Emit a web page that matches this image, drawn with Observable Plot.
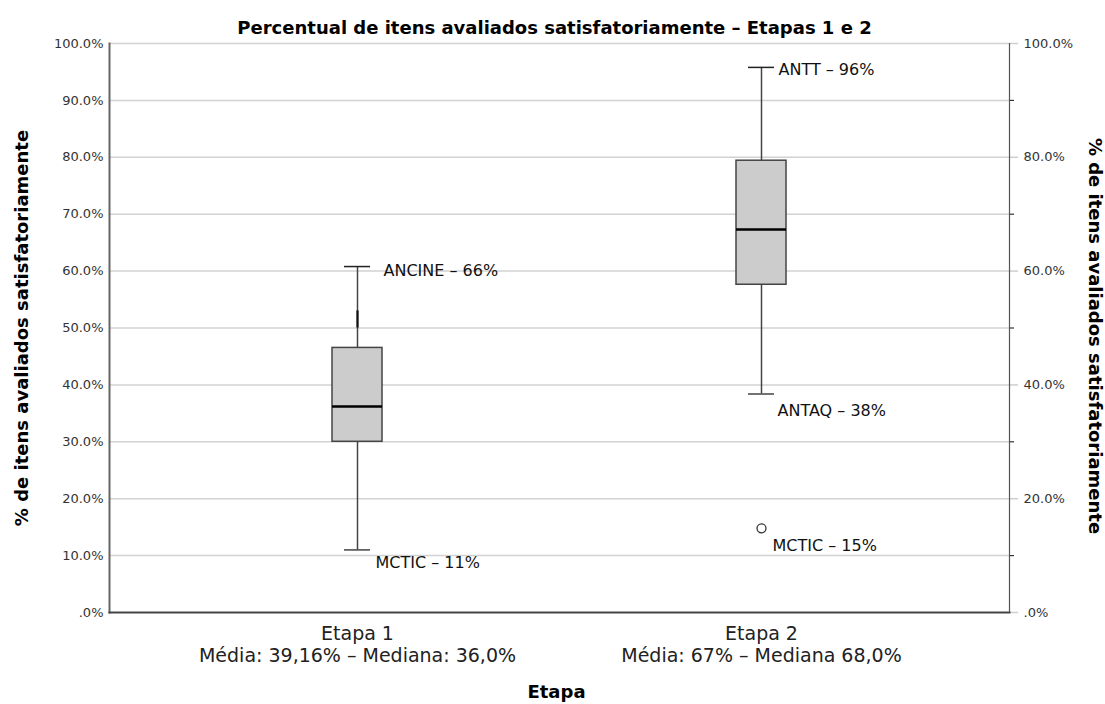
<!DOCTYPE html>
<html><head><meta charset="utf-8">
<script src="https://cdn.jsdelivr.net/npm/d3@7"></script>
<script src="https://cdn.jsdelivr.net/npm/@observablehq/plot@0.6"></script>
<style>body{margin:0;background:#fff;} svg{display:block}</style>
</head><body><div id="chart"></div>
<script>
// ---- data ----
const etapas = ["Etapa 1", "Etapa 2"];
const etapaSubtitulos = ["Média: 39,16% – Mediana: 36,0%", "Média: 67% – Mediana 68,0%"];
const q1 = [0.300, 0.576];
const medianas = [0.362, 0.673];
const q3 = [0.465, 0.794];
const bigodeMin = [0.110, 0.384];
const bigodeMax = [0.608, 0.958];
const bigodeSobreposto = [[0.50, 0.53]]; // darker overlapping whisker segment (Etapa 1)
const outlierEtapas = ["Etapa 2"];
const outlierValores = [0.148];
const rotulos = ["ANCINE – 66%", "MCTIC – 11%", "ANTT – 96%", "ANTAQ – 38%", "MCTIC – 15%"];
const rotuloEtapas = ["Etapa 1", "Etapa 1", "Etapa 2", "Etapa 2", "Etapa 2"];
const rotuloValores = [0.608, 0.110, 0.958, 0.384, 0.148];
const yTickValues = [0, 0.1, 0.2, 0.3, 0.4, 0.5, 0.6, 0.7, 0.8, 0.9, 1.0];
const yTickLabels = [".0%", "10.0%", "20.0%", "30.0%", "40.0%", "50.0%", "60.0%", "70.0%", "80.0%", "90.0%", "100.0%"];
const yRightValues = [0, 0.2, 0.4, 0.6, 0.8, 1.0];
const yRightMinor = [0.1, 0.3, 0.5, 0.7, 0.9];
const titulo = "Percentual de itens avaliados satisfatoriamente – Etapas 1 e 2";
const yTitulo = "% de itens avaliados satisfatoriamente";
const xTitulo = "Etapa";

// ---- tables ----
const boxes = etapas.map((e, i) => ({etapa: e, q1: q1[i], med: medianas[i], q3: q3[i], lo: bigodeMin[i], hi: bigodeMax[i]}));
const outliers = outlierEtapas.map((e, i) => ({etapa: e, v: outlierValores[i]}));
const anot = rotulos.map((t, i) => ({label: t, etapa: rotuloEtapas[i], v: rotuloValores[i]}));
const fmtY = d => { const k = yTickValues.findIndex(v => Math.abs(v - d) < 1e-9); return k >= 0 ? yTickLabels[k] : ""; };
const fmtX = d => d + "\n" + etapaSubtitulos[etapas.indexOf(d)];

// label offsets (style)
const offsets = [[26, 4], [18, 13], [17, 2], [16, 17], [11, 18]];

const chart = Plot.plot({
  width: 1105,
  height: 704,
  marginLeft: 109,
  marginRight: 96,
  marginTop: 43,
  marginBottom: 92,
  style: {fontFamily: "DejaVu Sans", fontSize: "13px", color: "#222", background: "#fff"},
  x: {domain: etapas, paddingInner: 0.8765, paddingOuter: 0.5494, axis: null},
  y: {domain: [0, 1], axis: null},
  marks: [
    Plot.ruleY(yTickValues.filter(v => v > 0), {stroke: "#d2d2d2", strokeWidth: 1.5}),
    // left axis
    Plot.axisY(yTickValues, {anchor: "left", label: null, tickSize: 0, tickPadding: 6, tickFormat: fmtY, fontSize: 13, fill: "#333"}),
    // right axis
    Plot.axisY(yRightValues, {anchor: "right", label: null, tickSize: 8, tickPadding: 6, tickFormat: fmtY, fontSize: 13, fill: "#333", stroke: "#cfcfcf", strokeWidth: 1.5}),
    Plot.axisY(yRightMinor, {anchor: "right", label: null, tickSize: 4, tickFormat: () => "", stroke: "#333", strokeWidth: 1.2}),
    // x axis labels
    Plot.axisX(etapas, {anchor: "bottom", label: null, tickSize: 0, tickPadding: 11, tickFormat: fmtX, fontSize: 19, lineHeight: 1.2, fill: "#222"}),
    // frame lines
    Plot.frame({anchor: "left", stroke: "#666", strokeWidth: 2}),
    Plot.frame({anchor: "right", stroke: "#555", strokeWidth: 1.2}),
    Plot.frame({anchor: "bottom", stroke: "#444", strokeWidth: 2}),
    // whiskers
    Plot.ruleX(boxes, {x: "etapa", y1: "lo", y2: "q1", stroke: "#444", strokeWidth: 1.5}),
    Plot.ruleX(boxes, {x: "etapa", y1: "q3", y2: "hi", stroke: "#444", strokeWidth: 1.5}),
    Plot.ruleX(bigodeSobreposto, {x: () => etapas[0], y1: d => d[0], y2: d => d[1], stroke: "#111", strokeWidth: 2.2}),
    Plot.tickY(boxes, {x: "etapa", y: "lo", stroke: "#444", strokeWidth: 1.5, insetLeft: 12, insetRight: 12}),
    Plot.tickY(boxes, {x: "etapa", y: "hi", stroke: "#222", strokeWidth: 1.5, insetLeft: 12, insetRight: 12}),
    // box
    Plot.barY(boxes, {x: "etapa", y1: "q1", y2: "q3", fill: "#cccccc", stroke: "#444", strokeWidth: 1.5}),
    Plot.tickY(boxes, {x: "etapa", y: "med", stroke: "#000", strokeWidth: 2.5}),
    // outliers
    Plot.dot(outliers, {x: "etapa", y: "v", r: 4.5, stroke: "#333", fill: "#fff", strokeWidth: 1.3}),
    // annotations
    ...anot.map((a, i) => Plot.text([a], {x: "etapa", y: "v", text: "label", textAnchor: "start", lineAnchor: "middle", dx: offsets[i][0], dy: offsets[i][1], fontSize: 16, fill: "#111"})),
    // titles
    Plot.text([titulo], {frameAnchor: "top", dx: -5, dy: -15, fontSize: 18, fontWeight: "bold", fill: "#000", textAnchor: "middle", lineAnchor: "middle"}),
    Plot.text([yTitulo], {frameAnchor: "left", dx: -87, rotate: -90, fontSize: 18, fontWeight: "bold", fill: "#000", textAnchor: "middle", lineAnchor: "middle"}),
    Plot.text([yTitulo], {frameAnchor: "right", dx: 85, dy: 8, rotate: 90, fontSize: 18, fontWeight: "bold", fill: "#000", textAnchor: "middle", lineAnchor: "middle"}),
    Plot.text([xTitulo], {frameAnchor: "bottom", dx: -3, dy: 80, fontSize: 18, fontWeight: "bold", fill: "#000", textAnchor: "middle", lineAnchor: "middle"})
  ]
});
document.getElementById("chart").appendChild(chart);
</script>
</body></html>
